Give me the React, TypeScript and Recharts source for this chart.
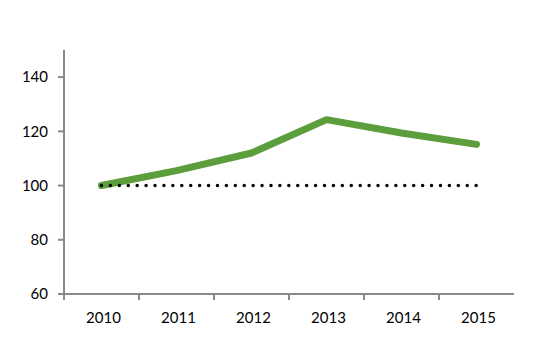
import { LineChart, Line, XAxis, YAxis } from 'recharts';

const years = ['2010', '2011', '2012', '2013', '2014', '2015'];
const index = [100, 105.5, 112, 124.3, 119.4, 115.2];
const baseline = [100, 100, 100, 100, 100, 100];
const yTicks = [60, 80, 100, 120, 140];

const data = years.map((year, i) => ({ year, index: index[i], baseline: baseline[i] }));

const AXIS = '#898989';
const HALF_STEP = 37.5;

const YearTick = (props: any) => {
  const { x, y, payload } = props;
  const axisY = y - 18;
  return (
    <g>
      <line x1={x - HALF_STEP} x2={x - HALF_STEP} y1={axisY} y2={axisY + 6} stroke={AXIS} strokeWidth={2} />
      <text x={x + 2} y={y} dy="0.71em" textAnchor="middle" fill="#000" fontSize={15} fontFamily="Lato">
        {payload.value}
      </text>
    </g>
  );
};

const App = () => {
  return (
    <LineChart width={552} height={347} data={data} margin={{ top: 42, right: 46, bottom: 31, left: 0 }}>
      <XAxis
        dataKey="year"
        padding={{ left: HALF_STEP, right: HALF_STEP }}
        stroke={AXIS}
        strokeWidth={2}
        tickLine={false}
        tickSize={5}
        tickMargin={13}
        height={30}
        tick={<YearTick />}
        interval={0}
      />
      <YAxis
        domain={[60, 150]}
        ticks={yTicks}
        width={56}
        stroke={AXIS}
        strokeWidth={2}
        tickSize={6}
        tickMargin={10}
        tick={{ fill: '#000', fontSize: 15, fontFamily: 'Lato' }}
        tickLine={{ stroke: AXIS, strokeWidth: 2 }}
      />
      <Line
        dataKey="index"
        stroke="#5c9d3c"
        strokeWidth={7}
        strokeLinecap="round"
        strokeLinejoin="round"
        dot={false}
        isAnimationActive={false}
      />
      <Line
        dataKey="baseline"
        stroke="#000"
        strokeWidth={3.5}
        strokeDasharray="0 8.92"
        strokeLinecap="round"
        dot={false}
        isAnimationActive={false}
      />
    </LineChart>
  );
};

export default App;
